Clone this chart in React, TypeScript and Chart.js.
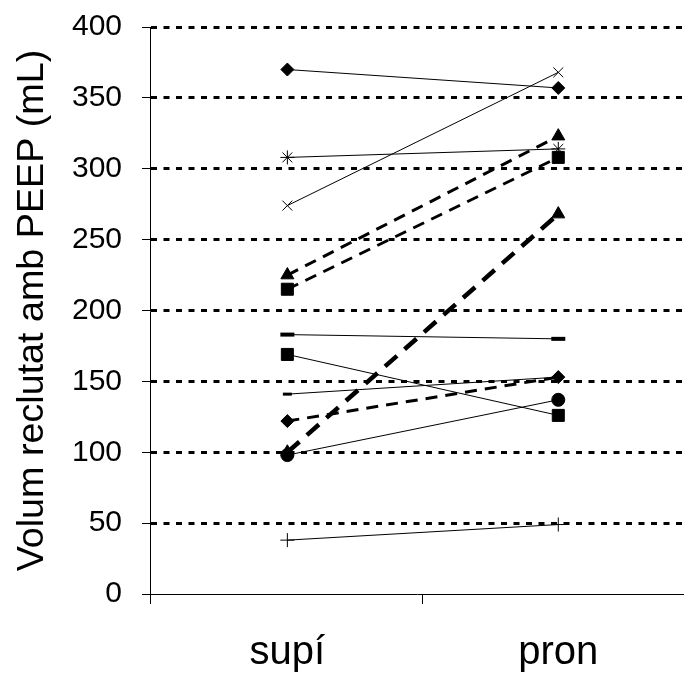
import React, { useEffect, useRef } from 'react';
import { Chart, registerables } from 'chart.js';
Chart.register(...registerables);

// ---- data ----
const categories = ['supí', 'pron'];
const yTickValues = [0, 50, 100, 150, 200, 250, 300, 350, 400];
const yAxisTitle = 'Volum reclutat amb PEEP (mL)';

const diamondSolid = [370, 357];
const crossSolid = [274, 368];
const starSolid = [308, 314];
const triangleDashed = [225, 323];
const squareDashed = [215, 308];
const triangleBoldDashed = [100, 268];
const dashWide = [183, 180];
const squareSolid = [169, 126];
const dashSmall = [141, 153];
const diamondDashed = [122, 153];
const circleSolid = [98, 137];
const plusSolid = [38, 49];

// ---- styles (separate from data) ----
type St = { w: number; dash: number[]; ps: string; r: number; pbw: number };
const series: { values: number[]; st: St }[] = [
  { values: diamondSolid, st: { w: 1, dash: [], ps: 'rectRot', r: 6.5, pbw: 1 } },
  { values: crossSolid, st: { w: 1, dash: [], ps: 'crossRot', r: 7, pbw: 1 } },
  { values: starSolid, st: { w: 1, dash: [], ps: 'star', r: 7, pbw: 1 } },
  { values: triangleDashed, st: { w: 3, dash: [12, 8], ps: 'triangle', r: 7.5, pbw: 1 } },
  { values: squareDashed, st: { w: 3, dash: [12, 8], ps: 'rect', r: 8.5, pbw: 1 } },
  { values: triangleBoldDashed, st: { w: 4.5, dash: [16, 10], ps: 'triangle', r: 7.5, pbw: 1 } },
  { values: dashWide, st: { w: 1, dash: [], ps: 'line', r: 7, pbw: 4 } },
  { values: squareSolid, st: { w: 1, dash: [], ps: 'rect', r: 8.5, pbw: 1 } },
  { values: dashSmall, st: { w: 1, dash: [], ps: 'line', r: 4.5, pbw: 3 } },
  { values: diamondDashed, st: { w: 3, dash: [12, 8], ps: 'rectRot', r: 6.5, pbw: 1 } },
  { values: circleSolid, st: { w: 1, dash: [], ps: 'circle', r: 6.5, pbw: 1 } },
  { values: plusSolid, st: { w: 1, dash: [], ps: 'cross', r: 7, pbw: 1 } },
];

const X_MIN = -0.007;
const X_MAX = 1.964;
const FONT = '"Liberation Sans", Arial, sans-serif';

const zeroPad = (scale: any) => {
  scale.paddingTop = 0;
  scale.paddingBottom = 0;
  scale.paddingLeft = 0;
  scale.paddingRight = 0;
};

export default function App() {
  const ref = useRef<HTMLCanvasElement | null>(null);

  useEffect(() => {
    if (!ref.current) return;
    const datasets = series.map((s) => ({
      data: s.values.map((v, i) => ({ x: i + 0.5, y: v })),
      borderColor: '#000',
      backgroundColor: '#000',
      pointBackgroundColor: '#000',
      pointBorderColor: '#000',
      borderWidth: s.st.w,
      borderDash: s.st.dash,
      pointStyle: s.st.ps as any,
      pointRadius: s.st.r,
      pointHoverRadius: s.st.r,
      pointBorderWidth: s.st.pbw,
      tension: 0,
      fill: false,
      clip: false as any,
    }));

    const chart = new Chart(ref.current, {
      type: 'line',
      data: { datasets },
      options: {
        animation: false,
        responsive: false,
        maintainAspectRatio: false,
        layout: { autoPadding: false, padding: { top: 27, right: 0, bottom: 0, left: 0 } },
        plugins: { legend: { display: false }, tooltip: { enabled: false } },
        scales: {
          x: {
            type: 'linear',
            min: X_MIN,
            max: X_MAX,
            afterBuildTicks: (scale: any) => {
              scale.ticks = [{ value: X_MIN }, { value: 0.5 }, { value: 1 }, { value: 1.5 }];
            },
            afterFit: (scale: any) => {
              scale.height = 86;
              zeroPad(scale);
            },
            ticks: {
              autoSkip: false,
              maxRotation: 0,
              padding: 25,
              color: '#000',
              font: { family: FONT, size: 40 },
              callback: (v: any) => {
                const n = Number(v);
                if (Math.abs(n - 0.5) < 1e-6) return categories[0];
                if (Math.abs(n - 1.5) < 1e-6) return categories[1];
                return '';
              },
            },
            grid: {
              drawOnChartArea: false,
              drawTicks: true,
              tickLength: 10,
              tickWidth: 1,
              tickColor: (ctx: any) => (ctx.index === 0 || ctx.index === 2 ? '#000' : 'rgba(0,0,0,0)'),
            },
            border: { display: true, color: '#000', width: 1 },
          },
          y: {
            type: 'linear',
            min: 0,
            max: 400,
            afterBuildTicks: (scale: any) => {
              scale.ticks = yTickValues.map((v) => ({ value: v }));
            },
            afterFit: (scale: any) => {
              scale.width = 150;
              zeroPad(scale);
            },
            ticks: {
              padding: 20,
              color: '#000',
              font: { family: FONT, size: 30 },
            },
            grid: {
              drawTicks: true,
              tickLength: 8,
              tickWidth: 1,
              tickColor: '#000',
              lineWidth: 3,
              color: (ctx: any) => (ctx.tick && ctx.tick.value === 0 ? 'rgba(0,0,0,0)' : '#000'),
            },
            border: { display: true, color: '#000', width: 1, dash: [6, 6.5] },
            title: {
              display: true,
              text: yAxisTitle,
              color: '#000',
              font: { family: FONT, size: 37.7 },
              padding: { top: 9.5, bottom: 0 },
            },
          },
        },
      },
    });
    return () => chart.destroy();
  }, []);

  return (
    <div style={{ position: 'fixed', left: 0, top: 0, width: 684, height: 680, background: '#fff' }}>
      <canvas ref={ref} width={684} height={680} style={{ display: 'block', width: 684, height: 680 }} />
    </div>
  );
}
